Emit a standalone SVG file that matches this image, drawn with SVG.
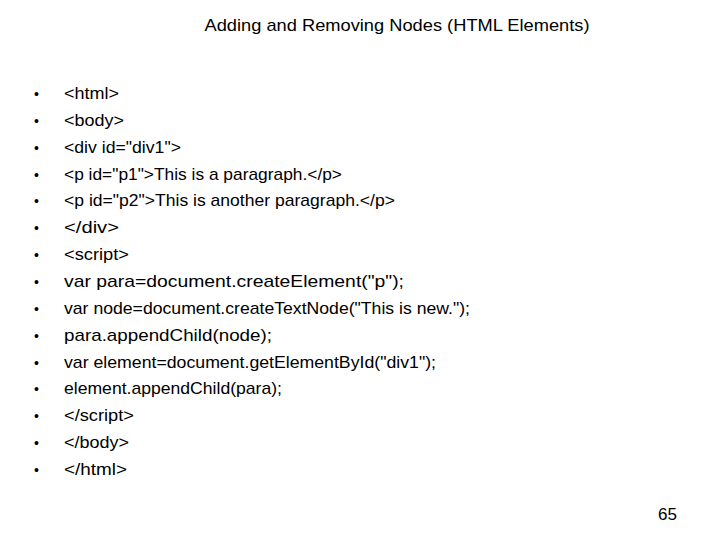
<svg xmlns="http://www.w3.org/2000/svg" width="720" height="540" viewBox="0 0 720 540">
<style>
text{font-family:"Liberation Sans",Arial,sans-serif;font-size:17px;fill:#000}
.b{font-size:14px}
</style>
<rect width="720" height="540" fill="#fff"/>
<text x="397" y="31" text-anchor="middle" textLength="385" lengthAdjust="spacingAndGlyphs">Adding and Removing Nodes (HTML Elements)</text>
<g id="bullets">
<text class="b" x="34" y="99">•</text><text class="b" x="34" y="126">•</text><text class="b" x="34" y="153">•</text><text class="b" x="34" y="180">•</text><text class="b" x="34" y="206">•</text><text class="b" x="34" y="233">•</text><text class="b" x="34" y="260">•</text><text class="b" x="34" y="287">•</text><text class="b" x="34" y="314">•</text><text class="b" x="34" y="341">•</text><text class="b" x="34" y="368">•</text><text class="b" x="34" y="394">•</text><text class="b" x="34" y="421">•</text><text class="b" x="34" y="448">•</text><text class="b" x="34" y="475">•</text>
</g>
<g id="lines">
<text x="64" y="99" textLength="55" lengthAdjust="spacingAndGlyphs">&lt;html&gt;</text>
<text x="64" y="126" textLength="60" lengthAdjust="spacingAndGlyphs">&lt;body&gt;</text>
<text x="64" y="153" textLength="117" lengthAdjust="spacingAndGlyphs">&lt;div id="div1"&gt;</text>
<text x="64" y="180" textLength="278" lengthAdjust="spacingAndGlyphs">&lt;p id="p1"&gt;This is a paragraph.&lt;/p&gt;</text>
<text x="64" y="206" textLength="331" lengthAdjust="spacingAndGlyphs">&lt;p id="p2"&gt;This is another paragraph.&lt;/p&gt;</text>
<text x="64" y="233" textLength="55" lengthAdjust="spacingAndGlyphs">&lt;/div&gt;</text>
<text x="64" y="260" textLength="65" lengthAdjust="spacingAndGlyphs">&lt;script&gt;</text>
<text x="64" y="287" textLength="340" lengthAdjust="spacingAndGlyphs">var para=document.createElement("p");</text>
<text x="64" y="314" textLength="406" lengthAdjust="spacingAndGlyphs">var node=document.createTextNode("This is new.");</text>
<text x="64" y="341" textLength="208" lengthAdjust="spacingAndGlyphs">para.appendChild(node);</text>
<text x="64" y="368" textLength="372" lengthAdjust="spacingAndGlyphs">var element=document.getElementById("div1");</text>
<text x="64" y="394" textLength="218" lengthAdjust="spacingAndGlyphs">element.appendChild(para);</text>
<text x="64" y="421" textLength="70" lengthAdjust="spacingAndGlyphs">&lt;/script&gt;</text>
<text x="64" y="448" textLength="65" lengthAdjust="spacingAndGlyphs">&lt;/body&gt;</text>
<text x="64" y="475" textLength="63" lengthAdjust="spacingAndGlyphs">&lt;/html&gt;</text>
</g>
<text x="677" y="520" text-anchor="end" font-size="14">65</text>
</svg>
